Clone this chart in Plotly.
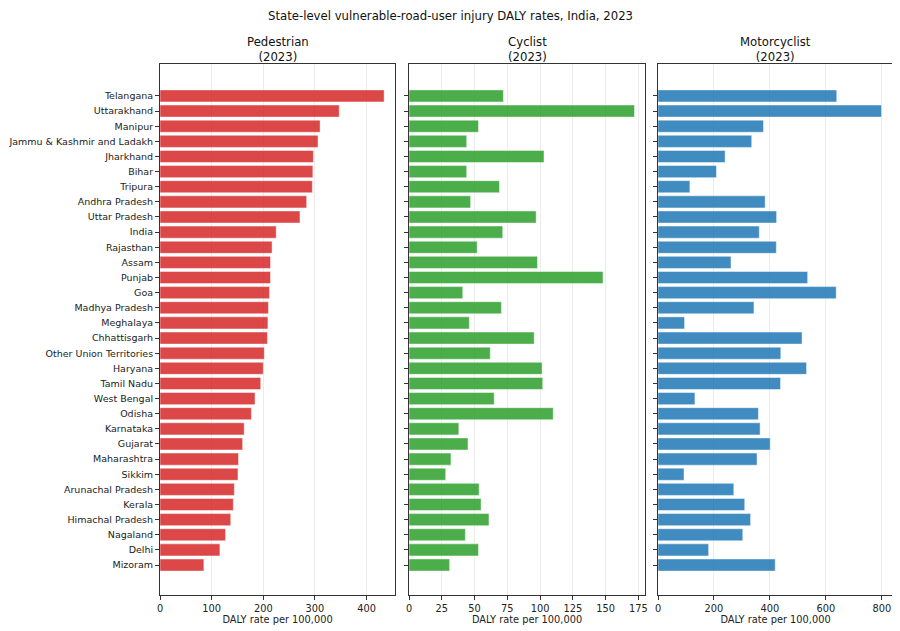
import plotly.graph_objects as go
from plotly.subplots import make_subplots

# data
states = ['Telangana', 'Uttarakhand', 'Manipur', 'Jammu & Kashmir and Ladakh', 'Jharkhand',
          'Bihar', 'Tripura', 'Andhra Pradesh', 'Uttar Pradesh', 'India', 'Rajasthan', 'Assam',
          'Punjab', 'Goa', 'Madhya Pradesh', 'Meghalaya', 'Chhattisgarh', 'Other Union Territories',
          'Haryana', 'Tamil Nadu', 'West Bengal', 'Odisha', 'Karnataka', 'Gujarat', 'Maharashtra',
          'Sikkim', 'Arunachal Pradesh', 'Kerala', 'Himachal Pradesh', 'Nagaland', 'Delhi', 'Mizoram']

pedestrian = [434, 347, 310, 306, 297, 296, 295, 284, 271, 225, 217, 214,
              214, 212, 210, 209, 208, 202, 200, 195, 184, 177, 163, 160,
              152, 151, 144, 142, 137, 127, 116, 85]

cyclist = [72, 172, 53, 44, 103, 44, 69, 47, 97, 71.5, 52, 98,
           148, 41, 70.5, 46, 95.5, 62, 101.5, 102, 65, 110, 38, 45,
           32, 28, 53.5, 55, 61, 43, 53, 31]

motorcyclist = [639, 799, 377, 335, 240, 209, 114, 383, 424, 362, 423, 261,
                535, 637, 343, 95, 515, 439, 531, 438, 132, 359, 365, 401,
                354, 93, 271, 310, 331, 303, 181, 419]

panels = ['Pedestrian', 'Cyclist', 'Motorcyclist']
colors = ['rgba(214,39,40,0.85)', 'rgba(44,160,44,0.85)', 'rgba(31,119,180,0.85)']
x_ranges = [[0, 455], [0, 180], [0, 840]]
x_ticks = [[0, 100, 200, 300, 400],
           [0, 25, 50, 75, 100, 125, 150, 175],
           [0, 200, 400, 600, 800]]

W, H = 900, 631
off = 8  # page body margin, shift everything up/left
x_doms = [[(160 - off) / W, (395 - off) / W], [(409 - off) / W, (645 - off) / W],
          [(658 - off) / W, (893 - off) / W]]
y_dom = [(H - 595 + off) / H, (H - 64 + off) / H]

font = 'DejaVu Sans'

fig = make_subplots(rows=1, cols=3)

for i, vals in enumerate([pedestrian, cyclist, motorcyclist]):
    fig.add_trace(go.Bar(y=states, x=vals, orientation='h', width=0.8,
                         marker=dict(color=colors[i], line=dict(color='rgba(255,255,255,0.6)', width=0.8)),
                         showlegend=False), row=1, col=i + 1)
    ax = '' if i == 0 else str(i + 1)
    fig.layout['xaxis' + ax].update(domain=x_doms[i], range=x_ranges[i], tickvals=x_ticks[i],
                                    automargin=False,
                                    showgrid=True, gridcolor='rgba(0,0,0,0.08)', gridwidth=1,
                                    zeroline=False, showline=True, linecolor='#333', linewidth=1,
                                    mirror=True, ticks='outside', ticklen=4, tickcolor='#333',
                                    tickfont=dict(size=9.8, color='#222'),
                                    title=dict(text='DALY rate per 100,000', font=dict(size=9.8, color='#222'),
                                               standoff=2))
    fig.layout['yaxis' + ax].update(domain=y_dom, type='category', range=[32.98, -2.11],
                                    automargin=False,
                                    categoryorder='array', categoryarray=states,
                                    showgrid=False, zeroline=False, showline=True, linecolor='#333',
                                    linewidth=1, mirror=True, ticks='outside', ticklen=4, tickcolor='#333',
                                    showticklabels=(i == 0), tickfont=dict(size=9.5, color='#222'))
    fig.add_annotation(text=panels[i] + '<br>(2023)', xref='paper', yref='paper',
                       x=(x_doms[i][0] + x_doms[i][1]) / 2, y=y_dom[1] - 2 / H,
                       xanchor='center', yanchor='bottom', showarrow=False,
                       font=dict(size=11.7, color='#111'))

fig.add_annotation(text='State-level vulnerable-road-user injury DALY rates, India, 2023',
                   xref='paper', yref='paper', x=(450 - off) / W, y=1,
                   xanchor='center', yanchor='top', borderpad=0,
                   showarrow=False, font=dict(size=11.7, color='#111'))

fig.update_layout(width=W, height=H, margin=dict(l=0, r=0, t=0, b=0),
                  plot_bgcolor='white', paper_bgcolor='white', bargap=0.2,
                  font=dict(family=font))

fig.write_html("out.html")
